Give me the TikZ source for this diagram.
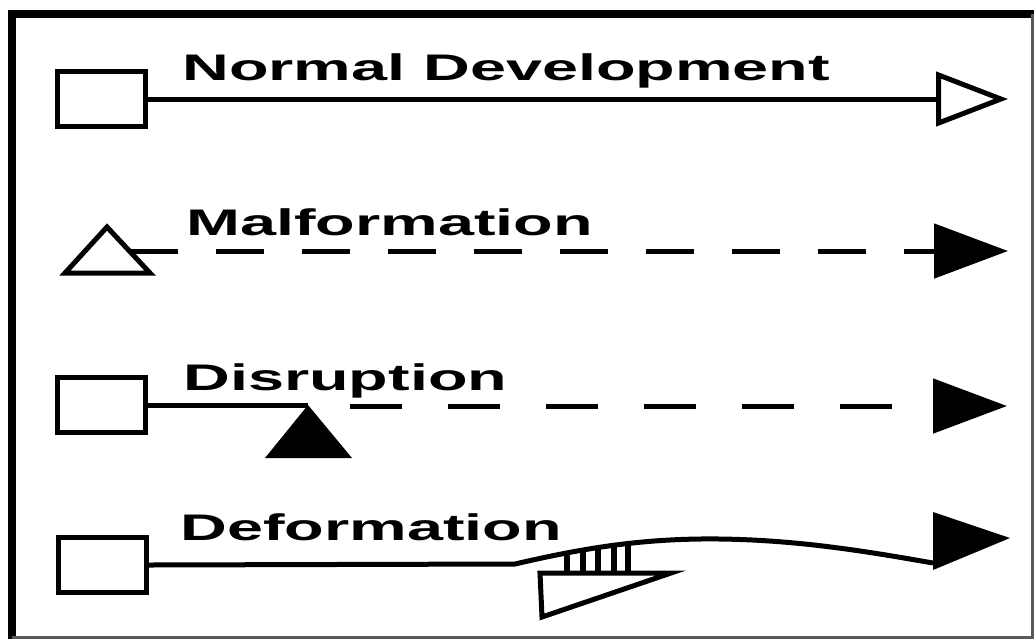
\documentclass[tikz,border=0pt]{standalone}
\usepackage{fontspec}
\usetikzlibrary{arrows.meta}

\newfontfamily\legendfont[FakeStretch=1.75]{Liberation Sans}

\tikzset{
    legbox/.style={rectangle, draw, fill=white, line width=2.5pt, minimum width=44pt, minimum height=27.5pt, inner sep=0pt},
    legtext/.style={anchor=base west, inner sep=0pt, font=\legendfont\bfseries\fontsize{18.5}{22}\selectfont},
    link/.style={line width=2.5pt},
    openhead/.style={-{Triangle[open, length=36pt, width=27pt]}},
    fullhead/.style={-{Triangle[length=37pt, width=27pt]}}
}

\begin{document}
\begin{tikzpicture}[x=0.5pt, y=-0.5pt, line join=miter]

\useasboundingbox (0,0) rectangle (1034,639);

% frame
\draw [line width=4pt] (12,639) -- (12,13.5) -- (1034,13.5);
\draw [gray!70!black, line width=1.5pt] (1032.5,13.5) -- (1032.5,639);
\draw [gray!70!black, line width=1.5pt] (12,637.5) -- (1034,637.5);

%%%%%%%%%%%%%%%%%%%%%%%%%%%%%%%%%%%%%%%%%%%%%%%%%%%%%%%%%%%%%%%%%%%%%%%%%%%%%%%%%%%%%%%%

\node [legbox] (normal) at (101.5,99) {};
\node [legtext] (normal_lbl) at (182,80) {Normal Development};
\coordinate (normal_end) at (1008,99);
\draw [link, openhead] (normal.east) -- (normal_end);

%%%%%%%%%%%%%%%%%%%%%%%%%%%%%%%%%%%%%%%%%%%%%%%%%%%%%%%%%%%%%%%%%%%%%%%%%%%%%%%%%%%%%%%%

\draw [line width=2.5pt, fill=white] (65,273) -- (107,227) -- (150,273) -- cycle;
\coordinate (malf_start) at (130,251);
\coordinate (malf_end) at (1008,251);
\node [legtext] (malf_lbl) at (186,235) {Malformation};
\draw [link, fullhead, dash pattern=on 24pt off 19pt] (malf_start) -- (malf_end);

%%%%%%%%%%%%%%%%%%%%%%%%%%%%%%%%%%%%%%%%%%%%%%%%%%%%%%%%%%%%%%%%%%%%%%%%%%%%%%%%%%%%%%%%

\node [legbox] (disr) at (101.5,405) {};
\node [legtext] (disr_lbl) at (183,390) {Disruption};
\coordinate (disr_hit) at (308,405);
\coordinate (disr_gap) at (350,406);
\coordinate (disr_end) at (1007,406);
\draw [link] (disr.east) -- (disr_hit);
\fill (265,458) -- (disr_hit) -- (352,458) -- cycle;
\draw [link, fullhead, dash pattern=on 26pt off 23pt] (disr_gap) -- (disr_end);

%%%%%%%%%%%%%%%%%%%%%%%%%%%%%%%%%%%%%%%%%%%%%%%%%%%%%%%%%%%%%%%%%%%%%%%%%%%%%%%%%%%%%%%%

\node [legbox] (defo) at (102,565) {};
\node [legtext] (defo_lbl) at (180,540) {Deformation};
\coordinate (defo_bend) at (515,564);
\coordinate (defo_top) at (720,539);
\coordinate (defo_end) at (933,563);

% hatching under the bend
\begin{scope}
\clip (defo_bend) .. controls (580,549) and (640,538) .. (defo_top) -- (720,600) -- (515,600) -- cycle;
\foreach \x in {567,583,598,614,628} {
    \draw [line width=3pt] (\x,530) -- (\x,573);
}
\end{scope}
\draw [line width=2.5pt, fill=white] (540,573) -- (671,573) -- (542,617) -- cycle;

\draw [link] (defo.east) -- (defo_bend) .. controls (580,549) and (640,538) .. (defo_top) .. controls (800,540) and (870,552) .. (defo_end);
\fill (933,512) -- (1010,538) -- (933,570) -- cycle;

\end{tikzpicture}
\end{document}
